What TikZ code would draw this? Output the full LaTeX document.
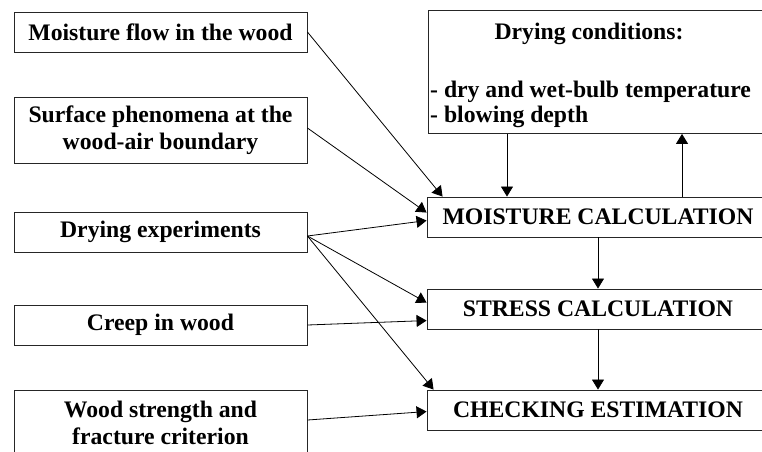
\documentclass[tikz,border=0pt]{standalone}
\usepackage{fontspec}
\setmainfont{Liberation Serif}
\usetikzlibrary{arrows.meta}
\begin{document}
\begin{tikzpicture}[x=1pt,y=-1pt,
  txt/.style={font=\fontsize{23.7}{27.5}\selectfont\bfseries},
  lbox/.style={txt,draw=black!85,line width=0.9pt,minimum width=293pt,inner sep=0pt,align=center},
  rbox/.style={txt,draw=black!85,line width=0.9pt,minimum width=342pt,minimum height=40pt,inner sep=0pt},
  arr/.style={line width=0.8pt,-{Triangle[length=10pt,width=12pt]}}]
\useasboundingbox (0,0) rectangle (762,451);
\clip (0,0) rectangle (762,451);
\fill[white] (0,0) rectangle (762,451);
% left boxes
\node[lbox,minimum height=40pt] (b1) at (160.5,32) {Moisture flow in the wood};
\node[lbox,minimum height=66pt] (b2) at (160.5,130) {Surface phenomena at the\\ wood-air boundary};
\node[lbox,minimum height=40pt] (b3) at (160.5,232) {Drying experiments};
\node[lbox,minimum height=40pt] (b4) at (160.5,325) {Creep in wood};
\node[lbox,minimum height=66pt] (b5) at (160.5,423) {Wood strength and\\ fracture criterion};
% right boxes
\node[rbox] (mc) at (598,217) {MOISTURE CALCULATION};
\node[rbox] (sc) at (598,309) {STRESS CALCULATION};
\node[rbox] (ce) at (598,410) {CHECKING ESTIMATION};
\node[draw=black!85,line width=0.9pt,minimum width=350pt,minimum height=123pt,inner sep=0pt,anchor=north west] (dc) at (428,10) {};
\node[txt,anchor=base] (dct) at (589,39) {Drying conditions:};
\node[txt,anchor=base west,inner sep=0pt] (dc1) at (430,97) {- dry and wet-bulb temperature};
\node[txt,anchor=base west,inner sep=0pt] (dc2) at (430,122) {- blowing depth};
% vertical connectors
\coordinate (d1) at ([xshift=79pt]dc.south west);
\coordinate (u1) at ([xshift=254pt]dc.south west);
\draw[arr] (d1) -- (d1 |- mc.north);
\draw[arr] (u1 |- mc.north) -- (u1);
\draw[arr] (mc.south) -- (sc.north);
\draw[arr] (sc.south) -- (ce.north);
% incoming connectors
\draw[arr] (b1.east) -- ([xshift=16pt]mc.north west);
\draw[arr] ([yshift=2pt]b2.east) -- ([yshift=-16pt]mc.north west);
\draw[arr] ([yshift=-4pt]b3.east) -- ([yshift=-24pt]mc.north west);
\draw[arr] ([yshift=-4pt]b3.east) -- ([yshift=-14pt]sc.north west);
\draw[arr] ([yshift=-4pt]b3.east) -- ([xshift=7pt]ce.north west);
\draw[arr] (b4.east) -- ([yshift=-32pt]sc.north west);
\draw[arr] ([yshift=3pt]b5.east) -- ([yshift=-22pt]ce.north west);
\end{tikzpicture}
\end{document}
